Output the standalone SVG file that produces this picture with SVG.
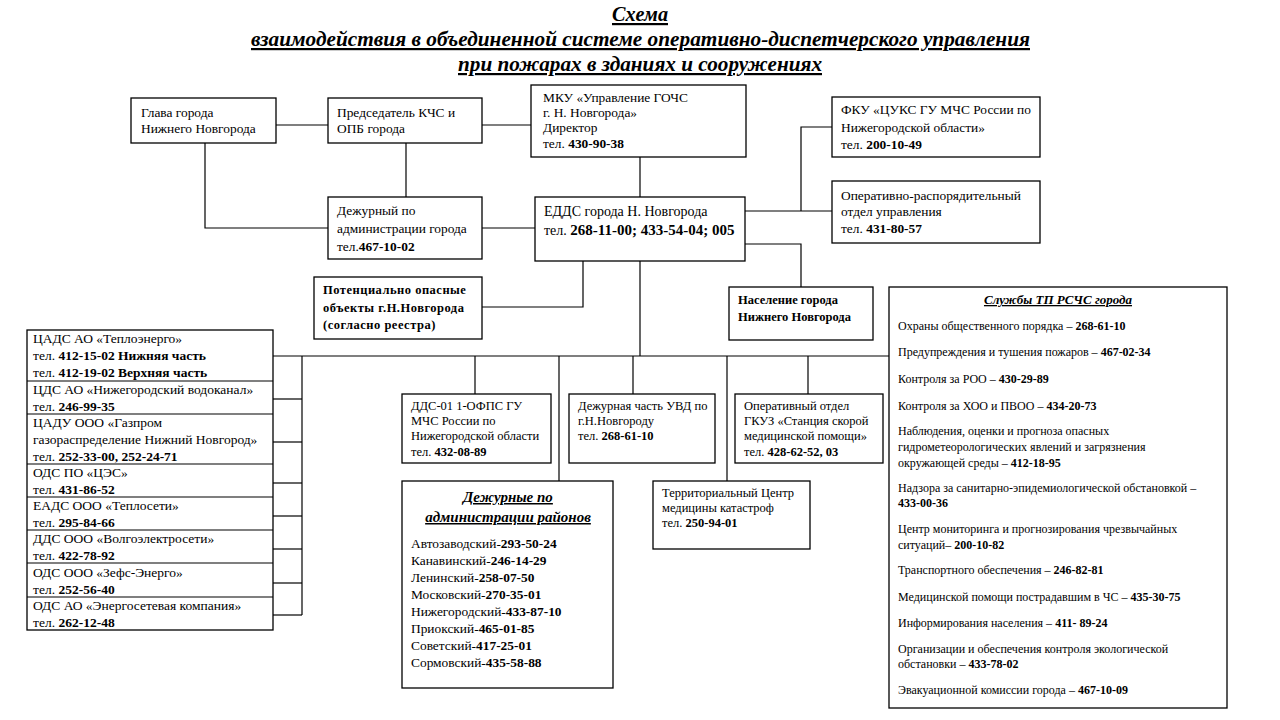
<svg xmlns="http://www.w3.org/2000/svg" width="1280" height="720" viewBox="0 0 1280 720" xml:space="preserve">
<style>
text { font-family: "Liberation Serif", "Times New Roman", serif; fill: #000; }
.box { fill: #fff; stroke: #000; stroke-width: 1.3; }
.conn line, .conn polyline { stroke: #000; stroke-width: 1.2; fill: none; }
.title { font-size: 22px; font-style: italic; font-weight: bold; text-decoration: underline; }
.s { font-size: 12.5px; }
.t { font-size: 13.4px; }
.m { font-size: 13.5px; }
.l { font-size: 14px; }
.d { font-size: 13.4px; }
.r { font-size: 12px; }
.bd { font-weight: bold; }
.sp { letter-spacing: 0.5px; }
.it { font-style: italic; font-weight: bold; text-decoration: underline; }
</style>
<rect width="1280" height="720" fill="#fff"/>
<g id="title">
<text class="title" x="612" y="21" textLength="56" lengthAdjust="spacingAndGlyphs">Схема</text>
<text class="title" x="251" y="46" textLength="779" lengthAdjust="spacingAndGlyphs">взаимодействия в объединенной системе оперативно-диспетчерского управления</text>
<text class="title" x="458" y="71" textLength="364" lengthAdjust="spacingAndGlyphs">при пожарах в зданиях и сооружениях</text>
</g>
<g class="conn" id="connectors">
<line x1="276" y1="125" x2="328" y2="125"/>
<line x1="482" y1="125" x2="531" y2="125"/>
<line x1="406" y1="143" x2="406" y2="197"/>
<polyline points="205,143 205,228 328,228"/>
<line x1="482" y1="228" x2="535" y2="228"/>
<line x1="640" y1="157" x2="640" y2="197"/>
<line x1="745" y1="211" x2="832" y2="211"/>
<polyline points="832,127 801,127 801,211"/>
<polyline points="745,244 801,244 801,287"/>
<polyline points="583,261 583,307 482,307"/>
<line x1="640" y1="261" x2="640" y2="356"/>
<line x1="273" y1="356" x2="889" y2="356"/>
<line x1="475" y1="356" x2="475" y2="394"/>
<line x1="559" y1="356" x2="559" y2="481"/>
<line x1="633" y1="356" x2="633" y2="394"/>
<line x1="727" y1="356" x2="727" y2="481"/>
<line x1="808" y1="356" x2="808" y2="394"/>
<line x1="302" y1="356" x2="302" y2="615"/>
<line x1="273" y1="399" x2="302" y2="399"/>
<line x1="273" y1="442" x2="302" y2="442"/>
<line x1="273" y1="483" x2="302" y2="483"/>
<line x1="273" y1="516" x2="302" y2="516"/>
<line x1="273" y1="549" x2="302" y2="549"/>
<line x1="273" y1="583" x2="302" y2="583"/>
<line x1="273" y1="615" x2="302" y2="615"/>
</g>
<g id="glava">
<rect class="box" x="131" y="98" width="145" height="45"/>
<text class="t" x="141" y="117">Глава города</text>
<text class="t" x="141" y="133">Нижнего  Новгорода</text>
</g>
<g id="predsedatel">
<rect class="box" x="328" y="98" width="154" height="45"/>
<text class="t" x="337" y="117">Председатель  КЧС и</text>
<text class="t" x="337" y="133">ОПБ города</text>
</g>
<g id="mku">
<rect class="box" x="531" y="85" width="215" height="72"/>
<text class="t" x="543" y="102">МКУ «Управление ГОЧС</text>
<text class="t" x="543" y="117">г. Н. Новгорода»</text>
<text class="t" x="543" y="132">Директор</text>
<text class="t" x="543" y="148">тел.  <tspan class="bd">430-90-38</tspan></text>
</g>
<g id="fku">
<rect class="box" x="832" y="97" width="208" height="60"/>
<text class="t" x="841" y="114">ФКУ  «ЦУКС  ГУ МЧС России по</text>
<text class="t" x="841" y="132">Нижегородской  области»</text>
<text class="t" x="841" y="149">тел.  <tspan class="bd">200-10-49</tspan></text>
</g>
<g id="ord">
<rect class="box" x="832" y="181" width="208" height="62"/>
<text class="t" x="841" y="200">Оперативно-распорядительный</text>
<text class="t" x="841" y="216">отдел управления</text>
<text class="t" x="841" y="233">тел.  <tspan class="bd">431-80-57</tspan></text>
</g>
<g id="dezhurny">
<rect class="box" x="328" y="197" width="154" height="62"/>
<text class="t" x="337" y="215">Дежурный по</text>
<text class="t" x="337" y="233">администрации города</text>
<text class="t" x="337" y="251">тел.<tspan class="bd">467-10-02</tspan></text>
</g>
<g id="edds">
<rect class="box" x="535" y="197" width="210" height="64"/>
<text class="l" x="544" y="216">ЕДДС города Н. Новгорода</text>
<text class="l" x="544" y="235">тел. <tspan class="bd" font-size="15">268-11-00; 433-54-04; 005</tspan></text>
</g>
<g id="poo">
<rect class="box" x="314" y="277" width="168" height="62"/>
<text class="s bd sp" x="323" y="294">Потенциально  опасные</text>
<text class="s bd sp" x="323" y="312">объекты г.Н.Новгорода</text>
<text class="s bd sp" x="323" y="329">(согласно  реестра)</text>
</g>
<g id="naselenie">
<rect class="box" x="729" y="287" width="144" height="53"/>
<text class="s bd" x="738" y="304" font-size="12.8">Население  города</text>
<text class="s bd" x="738" y="321" font-size="12.8">Нижнего  Новгорода</text>
</g>
<g id="left-services">
<rect class="box" x="27" y="330" width="246" height="300"/>
<line x1="27" y1="381" x2="273" y2="381" stroke="#000" stroke-width="1.2"/>
<line x1="27" y1="414" x2="273" y2="414" stroke="#000" stroke-width="1.2"/>
<line x1="27" y1="464" x2="273" y2="464" stroke="#000" stroke-width="1.2"/>
<line x1="27" y1="497" x2="273" y2="497" stroke="#000" stroke-width="1.2"/>
<line x1="27" y1="530" x2="273" y2="530" stroke="#000" stroke-width="1.2"/>
<line x1="27" y1="563" x2="273" y2="563" stroke="#000" stroke-width="1.2"/>
<line x1="27" y1="597" x2="273" y2="597" stroke="#000" stroke-width="1.2"/>
<text class="m" x="33" y="343">ЦАДС АО «Теплоэнерго»</text>
<text class="m" x="33" y="360">тел.  <tspan class="bd">412-15-02 Нижняя  часть</tspan></text>
<text class="m" x="33" y="377">тел.  <tspan class="bd">412-19-02 Верхняя  часть</tspan></text>
<text class="m" x="33" y="394">ЦДС АО «Нижегородский водоканал»</text>
<text class="m" x="33" y="411">тел.  <tspan class="bd">246-99-35</tspan></text>
<text class="m" x="33" y="427">ЦАДУ ООО  «Газпром</text>
<text class="m" x="33" y="444">газораспределение  Нижний  Новгород»</text>
<text class="m" x="33" y="461">тел.  <tspan class="bd">252-33-00, 252-24-71</tspan></text>
<text class="m" x="33" y="477">ОДС ПО «ЦЭС»</text>
<text class="m" x="33" y="494">тел.  <tspan class="bd">431-86-52</tspan></text>
<text class="m" x="33" y="510">ЕАДС ООО  «Теплосети»</text>
<text class="m" x="33" y="527">тел.  <tspan class="bd">295-84-66</tspan></text>
<text class="m" x="33" y="543">ДДС ООО  «Волгоэлектросети»</text>
<text class="m" x="33" y="560">тел.  <tspan class="bd">422-78-92</tspan></text>
<text class="m" x="33" y="577">ОДС ООО  «Зефс-Энерго»</text>
<text class="m" x="33" y="594">тел.  <tspan class="bd">252-56-40</tspan></text>
<text class="m" x="33" y="610">ОДС  АО «Энергосетевая компания»</text>
<text class="m" x="33" y="627">тел.  <tspan class="bd">262-12-48</tspan></text>
</g>
<g id="dds01">
<rect class="box" x="402" y="394" width="149" height="69"/>
<text class="s" x="411" y="410">ДДС-01 1-ОФПС ГУ</text>
<text class="s" x="411" y="425">МЧС России по</text>
<text class="s" x="411" y="440">Нижегородской  области</text>
<text class="s" x="411" y="456">тел.  <tspan class="bd">432-08-89</tspan></text>
</g>
<g id="uvd">
<rect class="box" x="569" y="394" width="146" height="69"/>
<text class="s" x="578" y="410">Дежурная часть УВД по</text>
<text class="s" x="578" y="425">г.Н.Новгороду</text>
<text class="s" x="578" y="440">тел. <tspan class="bd">268-61-10</tspan></text>
</g>
<g id="gkuz">
<rect class="box" x="735" y="394" width="148" height="69"/>
<text class="s" x="744" y="410">Оперативный  отдел</text>
<text class="s" x="744" y="425">ГКУЗ «Станция  скорой</text>
<text class="s" x="744" y="440">медицинской  помощи»</text>
<text class="s" x="744" y="456">тел.  <tspan class="bd">428-62-52, 03</tspan></text>
</g>
<g id="districts">
<rect class="box" x="402" y="481" width="211" height="207"/>
<text class="it" x="508" y="502" text-anchor="middle" font-size="15">Дежурные по</text>
<text class="it" x="508" y="522" text-anchor="middle" font-size="15">администрации районов</text>
<text class="d" x="411" y="548">Автозаводский-<tspan class="bd">293-50-24</tspan></text>
<text class="d" x="411" y="565">Канавинский-<tspan class="bd">246-14-29</tspan></text>
<text class="d" x="411" y="582">Ленинский-<tspan class="bd">258-07-50</tspan></text>
<text class="d" x="411" y="599">Московский-<tspan class="bd">270-35-01</tspan></text>
<text class="d" x="411" y="616">Нижегородский-<tspan class="bd">433-87-10</tspan></text>
<text class="d" x="411" y="633">Приокский-<tspan class="bd">465-01-85</tspan></text>
<text class="d" x="411" y="650">Советский-<tspan class="bd">417-25-01</tspan></text>
<text class="d" x="411" y="667">Сормовский-<tspan class="bd">435-58-88</tspan></text>
</g>
<g id="tcmk">
<rect class="box" x="653" y="481" width="157" height="68"/>
<text class="s" x="662" y="497" font-size="13">Территориальный Центр</text>
<text class="s" x="662" y="512" font-size="13">медицины  катастроф</text>
<text class="s" x="662" y="527" font-size="13">тел. <tspan class="bd">250-94-01</tspan></text>
</g>
<g id="rschs">
<rect class="box" x="889" y="287" width="338" height="421"/>
<text class="it" x="1058" y="304" text-anchor="middle" font-size="13">Службы  ТП РСЧС города</text>
<text class="r" x="898" y="330">Охраны общественного  порядка – <tspan class="bd">268-61-10</tspan></text>
<text class="r" x="898" y="356">Предупреждения и  тушения пожаров – <tspan class="bd">467-02-34</tspan></text>
<text class="r" x="898" y="383">Контроля за РОО – <tspan class="bd">430-29-89</tspan></text>
<text class="r" x="898" y="410">Контроля за ХОО и ПВОО – <tspan class="bd">434-20-73</tspan></text>
<text class="r" x="898" y="435">Наблюдения,  оценки  и прогноза опасных</text>
<text class="r" x="898" y="451">гидрометеорологических  явлений и загрязнения</text>
<text class="r" x="898" y="467">окружающей среды – <tspan class="bd">412-18-95</tspan></text>
<text class="r" x="898" y="492">Надзора за санитарно-эпидемиологической   обстановкой  –</text>
<text class="r bd" x="898" y="507">433-00-36</text>
<text class="r" x="898" y="533">Центр мониторинга  и прогнозирования чрезвычайных</text>
<text class="r" x="898" y="549">ситуаций–  <tspan class="bd">200-10-82</tspan></text>
<text class="r" x="898" y="574">Транспортного обеспечения  – <tspan class="bd">246-82-81</tspan></text>
<text class="r" x="898" y="601">Медицинской  помощи  пострадавшим в ЧС – <tspan class="bd">435-30-75</tspan></text>
<text class="r" x="898" y="627">Информирования населения  – <tspan class="bd">411- 89-24</tspan></text>
<text class="r" x="898" y="653">Организации и обеспечения  контроля экологической</text>
<text class="r" x="898" y="668">обстановки – <tspan class="bd">433-78-02</tspan></text>
<text class="r" x="898" y="694">Эвакуационной  комиссии  города – <tspan class="bd">467-10-09</tspan></text>
</g>
</svg>
